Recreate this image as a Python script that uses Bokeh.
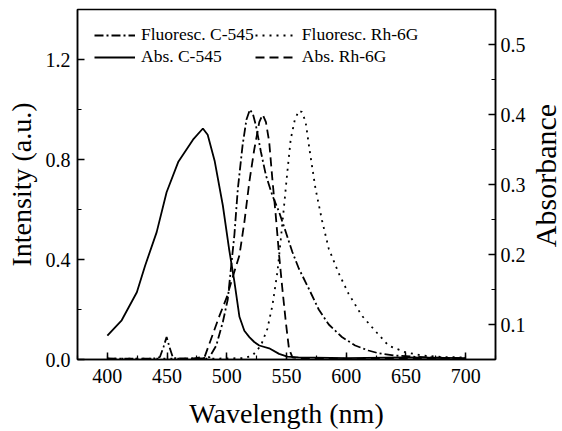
import math
from bokeh.plotting import figure
from bokeh.layouts import row
from bokeh.models import (Range1d, LinearAxis, SingleIntervalTicker, Legend, LegendItem,
                          PrintfTickFormatter, Label)
from bokeh.embed import file_html
from bokeh.resources import INLINE

# ---------------- data ----------------
# Fluorescence C-545 (left axis, intensity a.u.)
wl_fc = [400, 420, 440, 444, 447, 449.6, 452, 455, 460, 470, 480, 485.6, 491.2, 496.7, 500.8,
         503.6, 506.4, 509.2, 513.3, 516.5, 519.4, 522, 524.4, 528.6, 532.8, 538.2, 543.8, 549.4,
         554.9, 560.4, 568.7, 577, 585.4, 596.4, 607.5, 618.6, 627, 640.8, 660, 680, 700]
int_fc = [0.004, 0.003, 0.004, 0.01, 0.05, 0.09, 0.05, 0.006, 0.004, 0.004, 0.005, 0.01, 0.056,
          0.15, 0.24, 0.37, 0.5, 0.68, 0.86, 0.96, 1.0, 0.98, 0.936, 0.83, 0.736, 0.656, 0.59,
          0.51, 0.43, 0.363, 0.283, 0.2, 0.14, 0.09, 0.056, 0.036, 0.025, 0.016, 0.01, 0.007, 0.005]

# Fluorescence Rh-6G (left axis)
wl_fr = [400, 450, 500, 515, 521.6, 528.6, 534, 538.2, 542.4, 545.2, 548, 550.7, 553.5, 557,
         560.4, 563, 566, 570, 574.3, 579.8, 585.4, 593.7, 602, 613, 624.2, 635.3, 649, 663, 680, 700]
int_fr = [0.003, 0.003, 0.004, 0.006, 0.016, 0.056, 0.123, 0.216, 0.35, 0.48, 0.616, 0.75, 0.88,
          0.96, 0.995, 0.99, 0.95, 0.816, 0.683, 0.555, 0.443, 0.345, 0.263, 0.176, 0.115, 0.056,
          0.03, 0.016, 0.01, 0.008]

# Absorbance C-545 (right axis)
wl_ac = [400, 412, 424.7, 431.6, 441.3, 449.6, 459.3, 471.7, 480, 484, 489.8, 496.7, 502, 506.4,
         510.6, 514.7, 518.9, 523, 527.2, 535.5, 543.8, 550.7, 560, 600, 650, 700]
abs_ac = [0.084, 0.106, 0.146, 0.184, 0.232, 0.289, 0.332, 0.364, 0.380, 0.371, 0.334, 0.270,
          0.207, 0.161, 0.111, 0.091, 0.082, 0.075, 0.070, 0.066, 0.058, 0.054, 0.053, 0.052,
          0.053, 0.052]

# Absorbance Rh-6G (right axis)
wl_ar = [470, 481.5, 487, 494, 500, 505, 510.6, 514.7, 518.9, 523, 527.2, 530, 532.8, 535.5,
         538.2, 541, 543.8, 546.6, 549.4, 552.1, 555, 560, 600, 650, 700]
abs_ar = [0.051, 0.054, 0.080, 0.113, 0.139, 0.168, 0.199, 0.246, 0.304, 0.350, 0.389, 0.400,
          0.389, 0.361, 0.307, 0.256, 0.199, 0.150, 0.104, 0.065, 0.053, 0.052, 0.051, 0.051, 0.051]

labels = ["Fluoresc. C-545", "Fluoresc. Rh-6G", "Abs. C-545", "Abs. Rh-6G"]
x_title = "Wavelength (nm)"
yl_title = "Intensity (a.u.)"
yr_title = "Absorbance"

FONT = "Liberation Serif"

p = figure(width=528, height=431, x_range=Range1d(375, 725), y_range=Range1d(0, 1.4),
           output_backend="svg", toolbar_location=None,
           min_border_left=77, min_border_right=30, min_border_top=9, min_border_bottom=70)
p.extra_y_ranges = {"abs": Range1d(0.05, 0.55)}
p.grid.visible = False
p.outline_line_color = "black"
p.outline_line_width = 1.5
p.xaxis.visible = False
p.yaxis.visible = False


def style(ax, ticker, fmt, title, size):
    ax.ticker = ticker
    ax.formatter = PrintfTickFormatter(format=fmt)
    ax.axis_line_width = 1.5
    ax.major_tick_line_width = 1.5
    ax.minor_tick_line_width = 1.2
    ax.major_tick_in = 7
    ax.major_tick_out = 0
    ax.minor_tick_in = 4
    ax.minor_tick_out = 0
    ax.major_label_text_font = FONT
    ax.major_label_text_font_size = "20px"
    ax.major_label_text_color = "black"
    ax.major_label_standoff = 7
    if title:
        ax.axis_label = title
        ax.axis_label_text_font = FONT
        ax.axis_label_text_font_size = size
        ax.axis_label_text_font_style = "normal"
        ax.axis_label_text_color = "black"


xax = LinearAxis()
style(xax, SingleIntervalTicker(interval=50, num_minor_ticks=2), "%d", x_title, "28px")
xax.major_label_standoff = 9
xax.axis_label_standoff = 12
p.add_layout(xax, "below")

lax = LinearAxis()
style(lax, SingleIntervalTicker(interval=0.4, num_minor_ticks=2), "%.1f", yl_title, "28px")
lax.axis_label_standoff = 6
p.add_layout(lax, "left")

rax = LinearAxis(y_range_name="abs")
style(rax, SingleIntervalTicker(interval=0.1, num_minor_ticks=2), "%.1f", None, None)
rax.major_label_standoff = 5
p.add_layout(rax, "right")

r_fc = p.line(wl_fc, int_fc, line_color="black", line_width=1.8, line_dash="9 3 2 3")
r_fr = p.line(wl_fr, int_fr, line_color="black", line_width=1.8, line_dash="2 5")
r_ac = p.line(wl_ac, abs_ac, line_color="black", line_width=1.8, y_range_name="abs")
r_ar = p.line(wl_ar, abs_ar, line_color="black", line_width=1.8, line_dash="9 5", y_range_name="abs")

legend = Legend(items=[LegendItem(label=labels[0], renderers=[r_fc]),
                       LegendItem(label=labels[2], renderers=[r_ac]),
                       LegendItem(label=labels[1], renderers=[r_fr]),
                       LegendItem(label=labels[3], renderers=[r_ar])],
                ncols=2, location=(11, 286))
legend.border_line_alpha = 0
legend.background_fill_alpha = 0
legend.label_text_font = FONT
legend.label_text_font_size = "17.5px"
legend.label_text_color = "black"
legend.glyph_width = 41
legend.label_standoff = 6
legend.margin = 0
legend.padding = 6
legend.spacing = 1
legend.label_height = 20
legend.glyph_height = 20
p.add_layout(legend, "center")

# narrow strip on the right carrying the right-axis title (reads bottom to top)
p2 = figure(width=34, height=431, x_range=Range1d(0, 1), y_range=Range1d(0, 1),
            output_backend="svg", toolbar_location=None, min_border=0,
            x_axis_location=None, y_axis_location=None)
p2.grid.visible = False
p2.outline_line_color = None
p2.add_layout(Label(x=17, y=184, x_units="screen", y_units="screen", text=yr_title,
                    angle=math.pi / 2, text_align="center", text_baseline="middle",
                    text_font=FONT, text_font_size="30px", text_color="black"))

layout = row(p, p2, spacing=0)
open("out.html", "w").write(file_html(layout, INLINE))
